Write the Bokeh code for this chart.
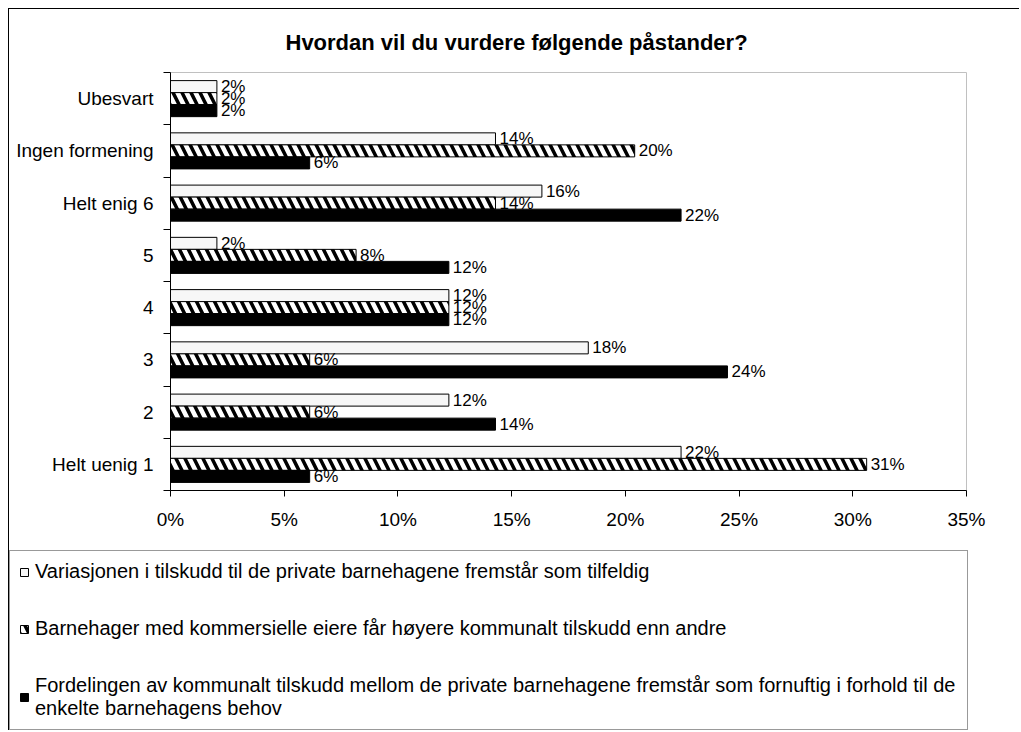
from bokeh.plotting import figure
from bokeh.models import (ColumnDataSource, FixedTicker, Legend, LegendItem,
                          CustomJSTickFormatter)
from bokeh.core.properties import value
from bokeh.embed import file_html
from bokeh.resources import INLINE

# ---- data ----
categories = ["Ubesvart", "Ingen formening", "Helt enig 6", "5", "4", "3", "2", "Helt uenig 1"]
variasjon = [2.04, 14.29, 16.33, 2.04, 12.24, 18.37, 12.24, 22.45]
kommersielle = [2.04, 20.41, 14.29, 8.16, 12.24, 6.12, 6.12, 30.61]
fordelingen = [2.04, 6.12, 22.45, 12.24, 12.24, 24.49, 14.29, 6.12]
series_names = [
    "Variasjonen i tilskudd til de private barnehagene fremstår som tilfeldig",
    "Barnehager med kommersielle eiere får høyere kommunalt tilskudd enn andre",
    "Fordelingen av kommunalt tilskudd mellom de private barnehagene fremstår som fornuftig i forhold til de\nenkelte barnehagens behov",
]
x_ticks = [0, 5, 10, 15, 20, 25, 30, 35]
title_text = "Hvordan vil du vurdere følgende påstander?"

FONT = "Liberation Sans"
n = len(categories)
centers = [n - 0.5 - i for i in range(n)]
offsets = [0.23, 0.0, -0.23]
bar_h = 0.23

W = 1011
p = figure(width=W, height=535, x_range=(0, 35), y_range=(0, n),
           output_backend="svg", toolbar_location=None,
           min_border_left=161, min_border_right=54, min_border_top=63,
           min_border_bottom=54)
p.styles = {"margin-left": "8px", "margin-top": "8px",
            "border-left": "1px solid black", "border-top": "1px solid black"}
p.background_fill_color = "white"
p.border_fill_color = "white"
p.outline_line_color = "#c0c0c0"
p.xgrid.visible = False
p.ygrid.visible = False

p.title.text = title_text
p.title.align = "left"
p.title.vertical_align = "middle"
p.title.text_font = FONT
p.title.text_font_size = "22px"
p.title.text_font_style = "bold"
p.title.text_color = "black"
p.title.offset = 115
p.title.standoff = 34

styles = [
    dict(fill_color="#f7f7f7", line_color="black"),
    dict(fill_color="white", line_color="black", hatch_pattern="left_diagonal_line",
         hatch_color="black", hatch_weight=3.5, hatch_scale=18),
    dict(fill_color="black", line_color="black"),
]
renderers = []
for k, vals in enumerate([variasjon, kommersielle, fordelingen]):
    ys = [c + offsets[k] for c in centers]
    src = ColumnDataSource(dict(y=ys, v=vals, lab=[f"{round(v):d}%" for v in vals]))
    r = p.hbar(y="y", right="v", left=0, height=bar_h, source=src, line_width=1, **styles[k])
    renderers.append(r)
    p.text(x="v", y="y", text="lab", source=src, x_offset=4,
           text_font=value(FONT), text_font_size="17px",
           text_baseline="middle", text_align="left", text_color="black")

# x axis
p.xaxis.ticker = FixedTicker(ticks=x_ticks)
p.xaxis.formatter = CustomJSTickFormatter(code="return tick + '%'")
p.xaxis.major_tick_out = 6
p.xaxis.major_tick_in = 0
p.xaxis.minor_tick_line_color = None
p.xaxis.major_label_standoff = 12
p.xaxis.major_label_text_font = FONT
p.xaxis.major_label_text_font_size = "19px"
p.xaxis.major_label_text_color = "black"
p.xaxis.axis_line_color = "black"
p.xaxis.major_tick_line_color = "black"

# y axis: labels at centers, ticks at category boundaries (minor ticks)
p.yaxis.ticker = FixedTicker(ticks=centers, minor_ticks=list(range(n + 1)))
p.yaxis.major_label_overrides = {c: categories[i] for i, c in enumerate(centers)}
p.yaxis.major_tick_line_color = None
p.yaxis.major_tick_out = 0
p.yaxis.major_tick_in = 0
p.yaxis.minor_tick_out = 7
p.yaxis.minor_tick_in = 0
p.yaxis.minor_tick_line_color = "black"
p.yaxis.major_label_standoff = 10
p.yaxis.major_label_text_font = FONT
p.yaxis.major_label_text_font_size = "19px"
p.yaxis.major_label_text_color = "black"
p.yaxis.axis_line_color = "black"

# legend panel below the chart (separate root, its frame fills the canvas)
LH = 187
pl = figure(width=W, height=LH, x_range=(0, 1), y_range=(0, 1), title=None,
            x_axis_type=None, y_axis_type=None, output_backend="svg",
            toolbar_location=None, min_border=0)
pl.styles = {"margin-left": "8px", "border-left": "1px solid black"}
pl.outline_line_color = None
pl.background_fill_color = "white"
pl.border_fill_color = "white"
pl.xgrid.visible = False
pl.ygrid.visible = False
leg_r = []
for k in range(3):
    # legend swatch renderers only: zero-width bars placed outside the visible range
    leg_r.append(pl.hbar(y=[-5], right=[0], left=[0], height=0.1, line_width=1, **styles[k]))

legend = Legend(items=[LegendItem(label=series_names[k], renderers=[leg_r[k]]) for k in range(3)],
                location=(0, 0), orientation="vertical",
                label_text_font=FONT, label_text_font_size="20px",
                label_text_color="black", label_text_line_height=1.55,
                glyph_width=10, glyph_height=10, label_standoff=6,
                label_height=20, label_width=923, spacing=34, padding=9, margin=0,
                border_line_color="#333333", border_line_width=1,
                background_fill_color="white", background_fill_alpha=1.0)
pl.add_layout(legend, "center")

open("out.html", "w").write(file_html([p, pl], INLINE))
